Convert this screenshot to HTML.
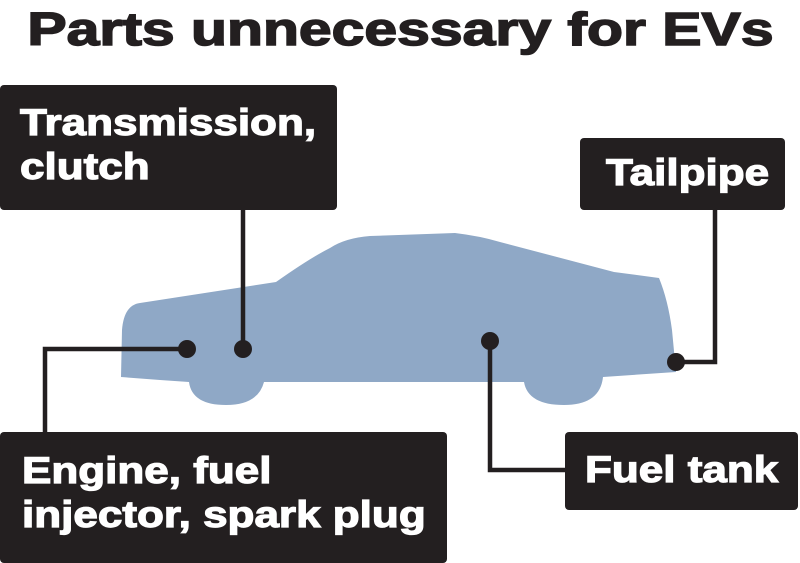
<!DOCTYPE html>
<html><head><style>
body{margin:0;width:800px;height:563px;background:#fff;position:relative;overflow:hidden;font-family:"Liberation Sans",Arial,sans-serif;}
.t{position:absolute;left:0;width:800px;top:2px;text-align:center;font-weight:bold;font-size:46px;color:#231f20;-webkit-text-stroke:1.5px #231f20;}
.t span{display:inline-block;transform:scaleX(1.28);transform-origin:center;}
.b{position:absolute;background:#231f20;color:#fff;font-weight:bold;font-size:37px;line-height:44px;border-radius:4px;box-sizing:border-box;-webkit-text-stroke:1.2px #fff;}
.b span{display:inline-block;transform:scaleX(1.19);transform-origin:left;white-space:nowrap;}
</style></head><body>
<div class="t"><span>Parts unnecessary for EVs</span></div>
<svg width="800" height="563" style="position:absolute;left:0;top:0">
<path d="M121,377 L122,330 Q124,305 140,303 L276,282 Q310,258 330,248 Q345,238 370,236 L455,233 Q480,236 500,242 L614,272 L659,278 Q668,300 672,330 L676,372 L603,377 Q600,405 564,405 Q528,405 524,382 L264,382 Q258,405 226,405 Q192,405 189,382 L160,380 Z" fill="#8fa8c6"/>
<g stroke="#231f20" stroke-width="4.5" fill="none">
<path d="M243,205 V349"/>
<path d="M187,349 H45 V440"/>
<path d="M490,341 V470 H570"/>
<path d="M715,205 V362 H675"/>
</g>
<g fill="#231f20">
<circle cx="187" cy="349" r="9"/><circle cx="243" cy="349" r="9"/>
<circle cx="490" cy="341" r="9"/><circle cx="676" cy="362" r="9"/>
</g>
</svg>
<div class="b" style="left:0;top:85px;width:337px;height:125px;padding:16px 0 0 20px;"><span>Transmission,<br>clutch</span></div>
<div class="b" style="left:580px;top:138px;width:205px;height:72px;padding:13px 0 0 26px;"><span>Tailpipe</span></div>
<div class="b" style="left:0;top:432px;width:447px;height:131px;padding:17px 0 0 22px;"><span>Engine, fuel<br>injector, spark plug</span></div>
<div class="b" style="left:565px;top:432px;width:233px;height:78px;padding:16px 0 0 20px;"><span>Fuel tank</span></div>
</body></html>
